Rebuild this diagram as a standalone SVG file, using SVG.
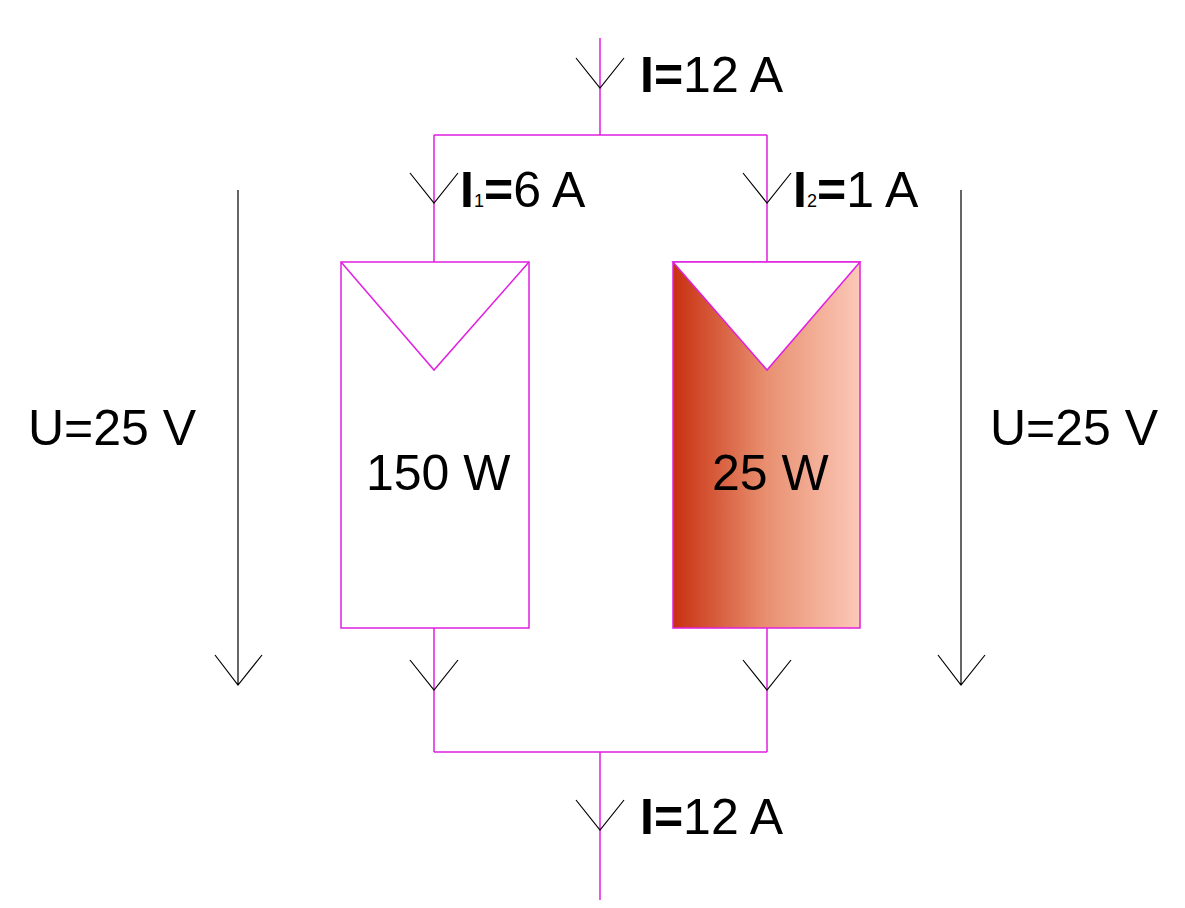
<svg xmlns="http://www.w3.org/2000/svg" width="1185" height="908" viewBox="0 0 1185 908">
<style>
.w{stroke:#e020e0;stroke-width:1.5;fill:none}
.a{stroke:#000;stroke-width:1.2;fill:none}
text{font-family:"Liberation Sans",Arial,sans-serif;font-size:50px;fill:#000}
.b{font-weight:bold}
</style>
<defs>
<linearGradient id="g" x1="0" x2="1" y1="0" y2="0">
<stop offset="0" stop-color="#c83010"/>
<stop offset="0.5" stop-color="#e89070"/>
<stop offset="1" stop-color="#fcc8b8"/>
</linearGradient>
</defs>
<g id="connectors">
<path class="w" d="M600 38V135M434 135H767M434 135V262M767 135V262M434 628V752M767 628V752M434 752H767M600 752V900"/>
<path class="a" d="M576 58L600 88L624 58M410 173L434 203L458 173M743 173L767 203L791 173M410 660L434 690L458 660M743 660L767 690L791 660M576 800L600 830L624 800"/>
<path class="a" d="M238 190V685M215 655L238 685L262 655M961 190V685M938 655L961 685L985 655"/>
</g>
<g id="panel1">
<rect class="w" x="341" y="262" width="188" height="366" fill="#fff"/>
<path class="w" d="M341 262L434 370L529 262"/>
<text x="366" y="490">150 W</text>
</g>
<g id="panel2">
<rect x="673" y="262" width="187" height="366" fill="url(#g)" stroke="#e020e0" stroke-width="1.5"/>
<path d="M673 262L767 370L860 262Z" fill="#fff" stroke="#e020e0" stroke-width="1.5"/>
<text x="712" y="490">25 W</text>
</g>
<g id="labels">
<text x="640" y="92"><tspan class="b">I=</tspan>12 A</text>
<text x="640" y="834"><tspan class="b">I=</tspan>12 A</text>
<text x="460" y="207"><tspan class="b">I</tspan><tspan font-size="18">1</tspan><tspan class="b">=</tspan>6 A</text>
<text x="793" y="207"><tspan class="b">I</tspan><tspan font-size="18">2</tspan><tspan class="b">=</tspan>1 A</text>
<text x="28" y="445">U=25 V</text>
<text x="990" y="445">U=25 V</text>
</g>
</svg>
